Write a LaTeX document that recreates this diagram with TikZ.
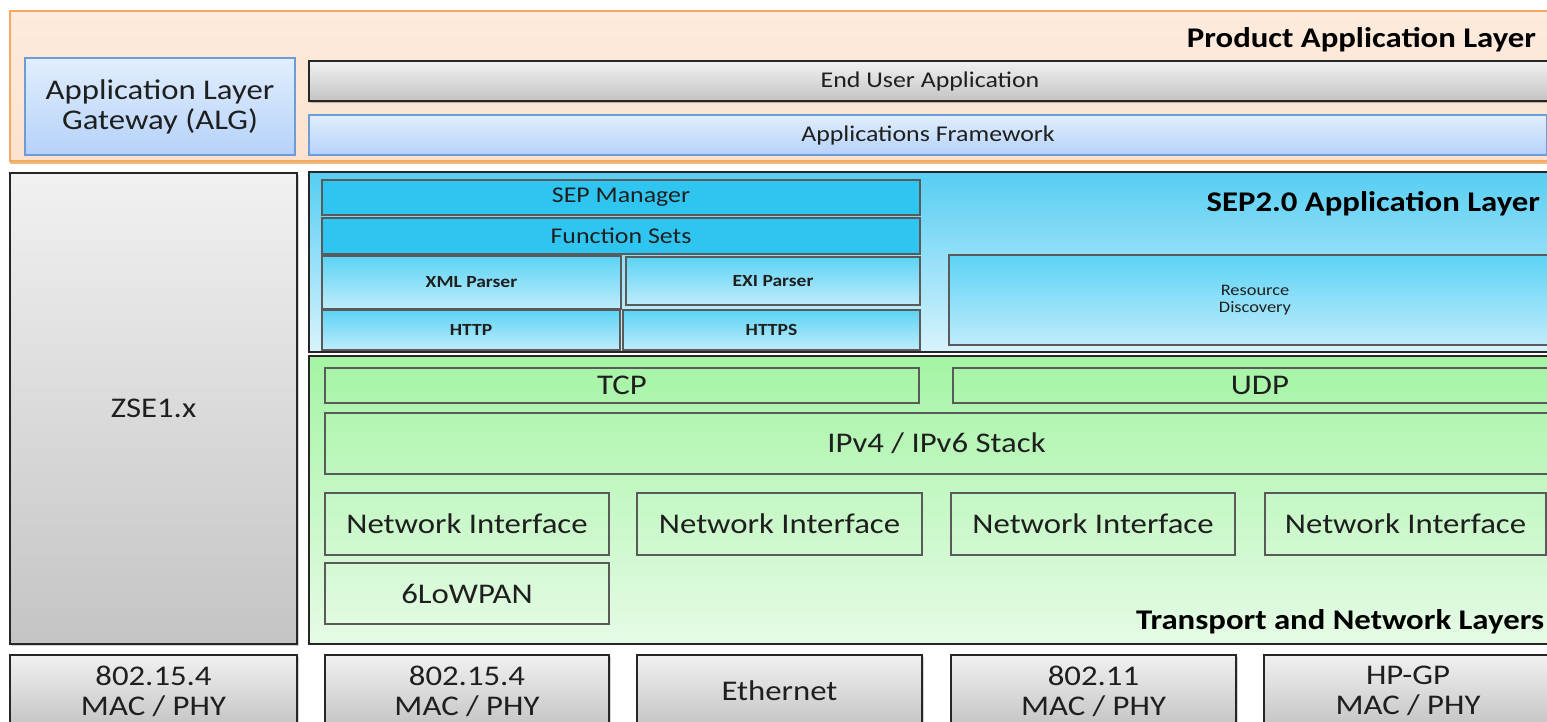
\documentclass[tikz,border=0pt]{standalone}
\usepackage{fontspec}
\setmainfont{Carlito}[FakeStretch=1.15]
\usetikzlibrary{shadows}

\newcommand{\fbig}{\fontsize{28.5}{30}\selectfont}
\newcommand{\fmid}{\fontsize{22.5}{24}\selectfont}
\newcommand{\fsml}{\fontsize{17}{18}\selectfont}
\newcommand{\ftin}{\fontsize{16}{17}\selectfont}

\definecolor{peachtop}{HTML}{FDEBDD}
\definecolor{peachbot}{HTML}{FCE2CE}
\definecolor{orangeline}{HTML}{F4A862}
\definecolor{bluetop}{HTML}{E1EEFD}
\definecolor{bluebot}{HTML}{B5D2F9}
\definecolor{blueline}{HTML}{6E9CD8}
\definecolor{graytop}{HTML}{F1F1F1}
\definecolor{graybot}{HTML}{C4C4C4}
\definecolor{darkline}{HTML}{262626}
\definecolor{midline}{HTML}{5A5A5A}
\definecolor{septop}{HTML}{56CEF3}
\definecolor{sepbot}{HTML}{D8F3FC}
\definecolor{cyanfill}{HTML}{2EC6F1}
\definecolor{cyantop}{HTML}{5CD3F5}
\definecolor{cyanbot}{HTML}{BFECFB}
\definecolor{greentop}{HTML}{A4F4A4}
\definecolor{greenbot}{HTML}{E6FBE6}

\tikzset{
  x=1pt, y=-1pt,
  every node/.style={inner sep=0pt, outer sep=0pt, anchor=north west, align=center, text=black!88},
  prodframe/.style={top color=peachtop, bottom color=peachbot, draw=orangeline, line width=1.5pt,
    drop shadow={shadow xshift=0pt, shadow yshift=-2.5pt, fill=orange!60!brown, opacity=0.55}},
  lightblue/.style={top color=bluetop, bottom color=bluebot, draw=blueline, line width=1.5pt, font=\fmid},
  graybox/.style={top color=graytop, bottom color=graybot, draw=darkline, line width=2pt, font=\fbig,
    drop shadow={shadow xshift=1.5pt, shadow yshift=-1.5pt, opacity=0.35}},
  sepframe/.style={top color=septop, bottom color=sepbot, draw=darkline, line width=2pt},
  cyanbar/.style={fill=cyanfill, draw=midline, line width=1.8pt, font=\fmid},
  sepinner/.style={top color=cyantop, bottom color=cyanbot, draw=midline, line width=1.5pt},
  greenframe/.style={top color=greentop, bottom color=greenbot, draw=darkline, line width=2pt},
  greeninner/.style={draw=midline, line width=1.5pt, font=\fbig},
  layertitle/.style={anchor=base east, font=\fbig\bfseries, text=black},
}

\begin{document}
\begin{tikzpicture}
\useasboundingbox (0,0) rectangle (1547,721);
\fill[white] (0,0) rectangle (1547,721);
\clip (0,0) rectangle (1547,721);

% Product application layer
\node[prodframe, minimum width=1550, minimum height=150] (prod) at (10,11) {};
\node[layertitle] (prodlbl) at (1536,47) {Product Application Layer};
\node[lightblue, font=\fbig, minimum width=270, minimum height=97] (alg) at (25,58)
  {\fontsize{28.5}{29}\selectfont Application Layer\\Gateway (ALG)};
\node[graybox, font=\fmid, line width=2pt, minimum width=1242, minimum height=40,
  drop shadow={shadow xshift=0pt, shadow yshift=-1.5pt, opacity=0.3}] (enduser) at (309,61) {End User Application};
\node[lightblue, minimum width=1238, minimum height=40] (appfw) at (309,115) {Applications Framework};

% ZigBee Smart Energy 1.x column
\node[graybox, minimum width=287, minimum height=471] (zse) at (10,173) {ZSE1.x};

% SEP2.0 application layer
\node[sepframe, minimum width=1245, minimum height=180] (sep) at (309,172) {};
\node[layertitle] (seplbl) at (1540,211) {SEP2.0 Application Layer};
\node[cyanbar, minimum width=598, minimum height=35] (sepmgr) at (322,180) {SEP Manager};
\node[cyanbar, minimum width=598, minimum height=36] (funcsets) at (322,218) {Function Sets};
\node[sepinner, font=\fsml\bfseries, minimum width=299, minimum height=53] (xml) at (322,256) {XML Parser};
\node[sepinner, font=\fsml\bfseries, minimum width=294, minimum height=48] (exi) at (626,257) {EXI Parser};
\node[sepinner, font=\fsml\bfseries, minimum width=298, minimum height=40] (http) at (322,310) {HTTP};
\node[sepinner, font=\fsml\bfseries, minimum width=297, minimum height=40] (https) at (623,310) {HTTPS};
\node[sepinner, font=\ftin, minimum width=612, minimum height=90] (resdisc) at (949,255) {Resource\\Discovery};

% Transport and network layers
\node[greenframe, minimum width=1245, minimum height=288] (tnl) at (309,356) {};
\node[layertitle] (tnllbl) at (1544,629) {Transport and Network Layers};
\node[greeninner, minimum width=594, minimum height=35] (tcp) at (325,368) {TCP};
\node[greeninner, minimum width=614, minimum height=35] (udp) at (953,368) {UDP};
\node[greeninner, minimum width=1223, minimum height=61] (ip) at (325,413) {IPv4 / IPv6 Stack};
\node[greeninner, minimum width=284, minimum height=62] (ni1) at (325,493) {Network Interface};
\node[greeninner, minimum width=285, minimum height=62] (ni2) at (637,493) {Network Interface};
\node[greeninner, minimum width=284, minimum height=62] (ni3) at (951,493) {Network Interface};
\node[greeninner, minimum width=281, minimum height=62] (ni4) at (1265,493) {Network Interface};
\node[greeninner, minimum width=284, minimum height=61] (lowpan) at (325,563) {6LoWPAN};

% MAC / PHY row
\node[graybox, minimum width=287, minimum height=72] (phy1) at (10,655) {802.15.4\\MAC / PHY};
\node[graybox, minimum width=284, minimum height=72] (phy2) at (325,655) {802.15.4\\MAC / PHY};
\node[graybox, minimum width=285, minimum height=72] (phy3) at (637,655) {Ethernet};
\node[graybox, minimum width=285, minimum height=72] (phy4) at (951,655) {802.11\\MAC / PHY};
\node[graybox, minimum width=288, minimum height=72] (phy5) at (1264,655) {HP-GP\\MAC / PHY};
\end{tikzpicture}
\end{document}
